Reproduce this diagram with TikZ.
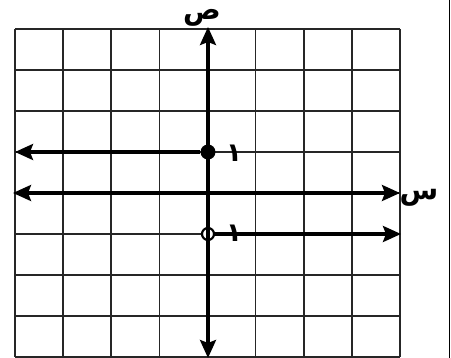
\documentclass[tikz,border=0pt]{standalone}
\usepackage{fontspec}
\newfontfamily\arabicfont[Script=Arabic]{DejaVu Sans}
\TeXXeTstate=1
\usetikzlibrary{arrows.meta}
\tikzset{
  gridline/.style={line width=1.6pt, black!85},
  axisline/.style={line width=3.2pt, black, -{Stealth[length=18pt,width=16pt,inset=3pt]}},
  lbl/.style={inner sep=0pt, font=\arabicfont\bfseries\fontsize{28}{28}\selectfont},
  numlbl/.style={inner sep=0pt, font=\arabicfont\bfseries\fontsize{26}{26}\selectfont},
}
\begin{document}
\begin{tikzpicture}[x=1pt,y=-1pt]
\useasboundingbox (0,0) rectangle (451,358);
% grid
\foreach \i in {0,...,8} {
  \draw[gridline] ({15+\i*48.125},29) -- ({15+\i*48.125},357);
  \draw[gridline] (15,{29+\i*41}) -- (400,{29+\i*41});
}
\draw[line width=1.2pt] (449.5,0) -- (449.5,358);
% named points
\coordinate (O) at (208,193);
\coordinate (xl) at (13,193);
\coordinate (xr) at (400,193);
\coordinate (yt) at (208,27);
\coordinate (yb) at (208,358);
\node[circle, fill=black, inner sep=0pt, minimum size=15pt] (P1) at (208,152) {};
\node[circle, draw=black, fill=white, line width=2.2pt, inner sep=0pt, minimum size=12pt] (P2) at (208,234) {};
\coordinate (L1) at (15,152);
\coordinate (R2) at (401,234);
% axes
\draw[axisline] (O) -- (xl);
\draw[axisline] (O) -- (xr);
\draw[axisline] (O) -- (yt);
\draw[axisline] (O) -- (yb);
% rays
\draw[axisline] (P1) -- (L1);
\draw[axisline] (P2) -- (R2);
% labels
\node[lbl, anchor=south] (ys) at (202,27) {\beginR ص\endR};
\node[lbl] (xs) at (419,198) {\beginR س\endR};
\node[numlbl, anchor=center] (n1) at (234,153) {\beginR ١\endR};
\node[numlbl, anchor=center] (n2) at (234,233) {\beginR ١\endR};
\end{tikzpicture}
\end{document}
